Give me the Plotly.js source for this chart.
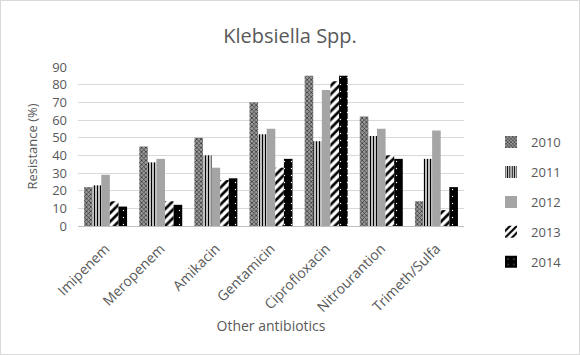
<!DOCTYPE html>
<html>
<head>
<meta charset="utf-8">
<script src="https://cdn.plot.ly/plotly-3.0.1.min.js"></script>
<style>
html,body{margin:0;padding:0;background:#fff;}
#chart{width:578px;height:353px;border:1px solid #d9d9d9;}
</style>
</head>
<body>
<div id="chart"></div>
<script>
const categories = ["Imipenem","Meropenem","Amikacin","Gentamicin","Ciprofloxacin","Nitrourantion","Trimeth/Sulfa"];
const years = ["2010","2011","2012","2013","2014"];
const v2010 = [22, 45, 50, 70, 85, 62, 14];
const v2011 = [23, 36, 40, 52, 48, 51, 38];
const v2012 = [29, 38, 33, 55, 77, 55, 54];
const v2013 = [14, 14, 26, 33, 82, 40, 9];
const v2014 = [11, 12, 27, 38, 85, 38, 22];
const values = [v2010, v2011, v2012, v2013, v2014];

const styles = [
  {color:"#6e6e6e", pattern:{shape:"x", fgcolor:"#2a2a2a", bgcolor:"#9a9a9a", size:3, solidity:0.4}},
  {color:"#ffffff", pattern:{shape:"|", fgcolor:"#000000", bgcolor:"#ffffff", size:3, solidity:0.5}},
  {color:"#a5a5a5"},
  {color:"#ffffff", pattern:{shape:"/", fgcolor:"#000000", bgcolor:"#ffffff", size:6, solidity:0.45}},
  {color:"#000000", pattern:{shape:".", fgcolor:"#ffffff", bgcolor:"#000000", size:7, solidity:0.03}}
];

const traces = years.map((y, i) => ({
  type: "bar",
  name: y,
  x: categories,
  y: values[i],
  legendgroup: y,
  marker: Object.assign({line:{width:0}}, styles[i])
}));

const layout = {
  width: 578, height: 353,
  margin: {l: 77, r: 94, t: 66, b: 128},
  paper_bgcolor: "#ffffff",
  plot_bgcolor: "#ffffff",
  font: {family: "Open Sans, Calibri, sans-serif", color: "#595959", size: 13},
  title: {text: "Klebsiella Spp.", font: {size: 20, color: "#595959"}, x: 0.5, xanchor: "center", y: 0.9, yanchor: "middle"},
  barmode: "group",
  bargap: 0.22,
  bargroupgap: 0,
  xaxis: {
    tickangle: -45,
    tickfont: {size: 14, color: "#595959"},
    ticklabelstandoff: 8,
    showline: true, linecolor: "#bfbfbf", linewidth: 1,
    ticks: "",
    title: {text: "Other antibiotics", font: {size: 14, color: "#595959"}, standoff: 6}
  },
  yaxis: {
    range: [0, 90],
    dtick: 10,
    showgrid: true, gridcolor: "#d9d9d9", gridwidth: 1,
    zeroline: false,
    ticks: "",
    ticklabelstandoff: 10,
    tickfont: {size: 13, color: "#595959"},
    title: {text: "Resistance (%)", font: {size: 13, color: "#595959"}, standoff: 11}
  },
  legend: {
    x: 1.07, xanchor: "left",
    y: 0.15, yanchor: "middle",
    font: {size: 13, color: "#595959"},
    tracegroupgap: 10,
    itemwidth: 30,
    bgcolor: "rgba(0,0,0,0)"
  },
  showlegend: true
};

Plotly.newPlot("chart", traces, layout, {displayModeBar: false, staticPlot: true});
</script>
</body>
</html>
